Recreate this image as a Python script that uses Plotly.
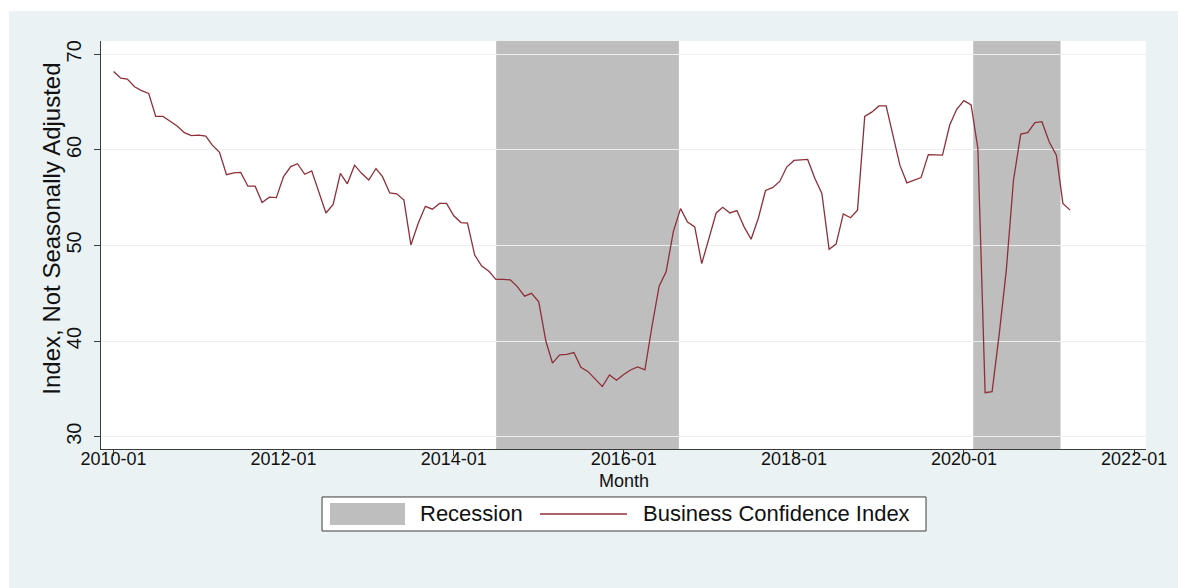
import plotly.graph_objects as go
import pandas as pd

# ---- data ----
start_month = "2010-01-01"
bci_values = [
    68.2, 67.5, 67.4, 66.6, 66.2, 65.9, 63.5, 63.5, 63.0, 62.5, 61.8, 61.5,
    61.55, 61.45, 60.5, 59.75, 57.4, 57.6, 57.65, 56.2, 56.2, 54.5, 55.05, 55.0,
    57.2, 58.25, 58.55, 57.45, 57.8, 55.6, 53.4, 54.3, 57.55, 56.45, 58.4, 57.55,
    56.85, 58.05, 57.2, 55.5, 55.4, 54.75, 50.05, 52.3, 54.1, 53.8, 54.4, 54.4,
    53.1, 52.4, 52.35, 49.0, 47.85, 47.3, 46.45, 46.45, 46.4, 45.7, 44.7, 45.0,
    44.1, 39.95, 37.7, 38.55, 38.6, 38.8, 37.25, 36.8, 36.0, 35.25, 36.45, 35.9,
    36.5, 37.0, 37.3, 37.0, 41.5, 45.75, 47.25, 51.45, 53.85, 52.45, 51.95, 48.1,
    50.75, 53.4, 54.0, 53.4, 53.65, 51.95, 50.65, 52.85, 55.75, 56.05, 56.7, 58.2,
    58.9, 58.95, 59.0, 57.0, 55.45, 49.6, 50.15, 53.3, 52.9, 53.7, 63.5, 63.95,
    64.6, 64.6, 61.75, 58.4, 56.55, 56.85, 57.1, 59.5, 59.45, 59.45, 62.6, 64.25,
    65.15, 64.7, 60.15, 34.6, 34.7, 40.8, 47.4, 56.85, 61.65, 61.8, 62.85, 62.95,
    60.85, 59.45, 54.4, 53.7,
]
months = pd.date_range(start_month, periods=len(bci_values), freq="MS")

recession_starts = ["2014-07-02", "2020-02-10"]
recession_ends = ["2016-08-25", "2021-02-19"]

x_tick_vals = ["2010-01-01", "2012-01-01", "2014-01-01", "2016-01-01",
               "2018-01-01", "2020-01-01", "2022-01-01"]
x_tick_text = ["2010-01", "2012-01", "2014-01", "2016-01", "2018-01", "2020-01", "2022-01"]
y_tick_vals = [30, 40, 50, 60, 70]

series_name = "Business Confidence Index"
recession_name = "Recession"
x_title = "Month"
y_title = "Index, Not Seasonally Adjusted"

# ---- styles ----
BG = "#EAF2F3"
LINE = "#8E2F3A"
SHADE = "#BEBEBE"
AXIS = "#3c3c3c"
FONT = "Liberation Sans, Arial, sans-serif"
TXT = "#111111"

fig = go.Figure()
fig.add_trace(go.Scatter(
    x=months, y=bci_values, mode="lines", name=series_name,
    line=dict(color=LINE, width=1.3), showlegend=False,
))

shapes = []
for s, e in zip(recession_starts, recession_ends):
    shapes.append(dict(type="rect", xref="x", yref="paper", x0=s, x1=e, y0=0, y1=1,
                       fillcolor=SHADE, line=dict(width=0), layer="between"))

# white border strips (top and left) of the picture
shapes.append(dict(type="rect", xref="paper", yref="paper", x0=-0.0967, x1=-0.088,
                   y0=-0.341, y1=1.1005, fillcolor="white", line=dict(width=0), layer="below"))
shapes.append(dict(type="rect", xref="paper", yref="paper", x0=-0.0967, x1=1.031,
                   y0=1.0735, y1=1.1005, fillcolor="white", line=dict(width=0), layer="below"))

# legend (drawn manually to mimic the Stata legend box)
lg_y0, lg_y1 = -0.201, -0.1176
lg_mid = (lg_y0 + lg_y1) / 2
shapes.append(dict(type="rect", xref="paper", yref="paper", x0=0.2115, x1=0.7895,
                   y0=lg_y0, y1=lg_y1, fillcolor="white", line=dict(color=AXIS, width=1)))
shapes.append(dict(type="rect", xref="paper", yref="paper", x0=0.2191, x1=0.2909,
                   y0=-0.1863, y1=-0.1324, fillcolor=SHADE, line=dict(width=0)))
shapes.append(dict(type="line", xref="paper", yref="paper", x0=0.4201, x1=0.5033,
                   y0=lg_mid, y1=lg_mid, line=dict(color=LINE, width=1.3)))

annotations = [
    dict(xref="paper", yref="paper", x=0.3033, y=lg_mid, text=recession_name,
         showarrow=False, xanchor="left", yanchor="middle",
         font=dict(family=FONT, size=22, color=TXT)),
    dict(xref="paper", yref="paper", x=0.5167, y=lg_mid, text=series_name,
         showarrow=False, xanchor="left", yanchor="middle",
         font=dict(family=FONT, size=22, color=TXT)),
    dict(xref="paper", yref="paper", x=0.5, y=-0.0785, text=x_title,
         showarrow=False, xanchor="center", yanchor="middle",
         font=dict(family=FONT, size=18, color=TXT)),
    dict(xref="paper", yref="paper", x=-0.0469, y=0.54, text=y_title,
         showarrow=False, xanchor="center", yanchor="middle", textangle=-90,
         font=dict(family=FONT, size=24, color=TXT)),
]

fig.update_layout(
    width=1178, height=588,
    margin=dict(l=101, r=32, t=41, b=139, pad=0),
    paper_bgcolor=BG, plot_bgcolor="white",
    font=dict(family=FONT, color=TXT),
    shapes=shapes, annotations=annotations,
    showlegend=False,
    xaxis=dict(
        type="date", range=["2009-11-08", "2022-02-21"],
        tickvals=x_tick_vals, ticktext=x_tick_text,
        ticks="outside", ticklen=6, tickcolor=AXIS, tickwidth=1,
        showline=True, linecolor=AXIS, linewidth=1,
        showgrid=False, zeroline=False,
        ticklabelstandoff=-13,
        tickfont=dict(size=18, family=FONT, color=TXT),
    ),
    yaxis=dict(
        range=[28.71, 71.39], tickvals=y_tick_vals,
        ticks="outside", ticklen=6, tickcolor=AXIS, tickwidth=1,
        showline=True, linecolor=AXIS, linewidth=1,
        showgrid=True, gridcolor="#EAF0F2", gridwidth=1, zeroline=False,
        tickangle=-90, ticklabelstandoff=5,
        tickfont=dict(size=20, family=FONT, color=TXT),
    ),
)

fig.write_html("out.html")
